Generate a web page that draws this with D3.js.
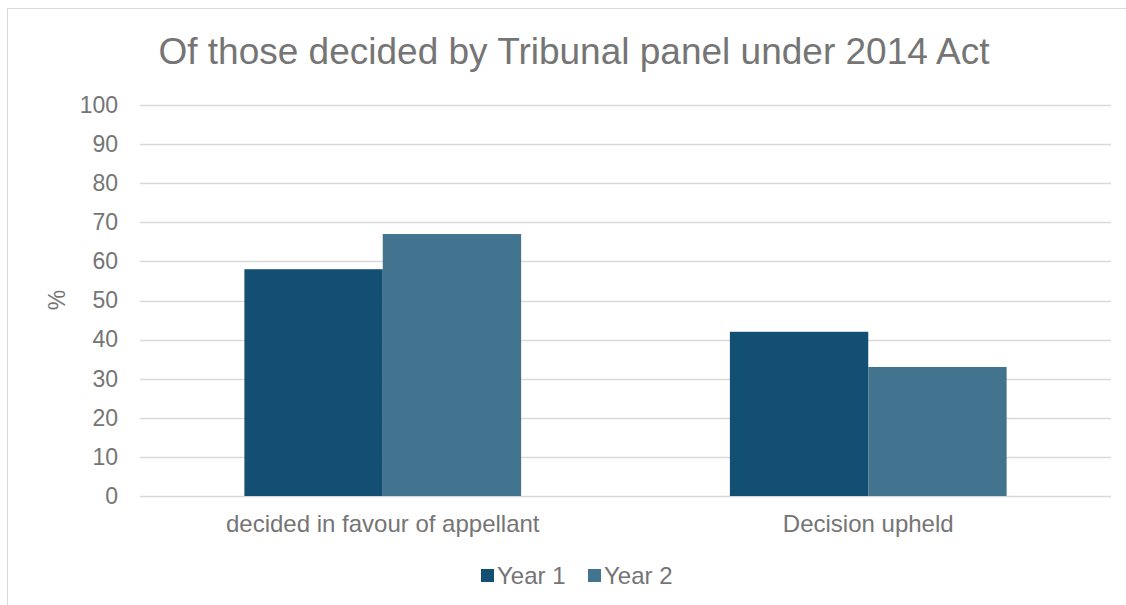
<!DOCTYPE html>
<html>
<head>
<meta charset="utf-8">
<script src="https://cdn.jsdelivr.net/npm/d3@7"></script>
<style>
  body { margin: 0; background: #fff; }
  text { font-family: "Liberation Sans", Arial, sans-serif; fill: #757575; }
</style>
</head>
<body>
<svg id="chart" width="1126" height="605"></svg>
<script>
var categories = ["decided in favour of appellant", "Decision upheld"];
var seriesNames = ["Year 1", "Year 2"];
var year1 = [58, 42];
var year2 = [67, 33];
var yTicks = [0, 10, 20, 30, 40, 50, 60, 70, 80, 90, 100];

var colors = ["#124f73", "#42738f"];
var values = [year1, year2];

var svg = d3.select("#chart");

// outer chart border (runs off right/bottom edge like the source)
svg.append("rect")
  .attr("x", 7.5).attr("y", 8.5)
  .attr("width", 1130).attr("height", 620)
  .attr("fill", "none")
  .attr("stroke", "#d9d9d9");

var plotLeft = 140, plotRight = 1111, plotTop = 105, plotBottom = 496;

var y = d3.scaleLinear().domain([0, 100]).range([plotBottom, plotTop]);
var x0 = d3.scaleBand().domain(categories).range([plotLeft, plotRight])
  .paddingInner(0.43).paddingOuter(0.215);
var x1 = d3.scaleBand().domain(seriesNames).range([0, x0.bandwidth()]);

// gridlines
svg.append("g")
  .selectAll("line")
  .data(yTicks)
  .enter().append("line")
  .attr("x1", plotLeft).attr("x2", plotRight)
  .attr("y1", d => Math.round(y(d)) + 0.5).attr("y2", d => Math.round(y(d)) + 0.5)
  .attr("stroke", "#d9d9d9")
  .attr("stroke-width", 1.3);

// y axis labels
var yAxis = svg.append("g")
  .attr("transform", "translate(" + plotLeft + ",0)")
  .call(d3.axisLeft(y).tickValues(yTicks).tickSize(0).tickPadding(22));
yAxis.select(".domain").remove();
yAxis.selectAll("text")
  .style("font-size", "23px")
  .style("font-family", "'Liberation Sans', Arial, sans-serif")
  .attr("fill", "#757575");

// bars
var groups = svg.append("g")
  .selectAll("g")
  .data(categories)
  .enter().append("g")
  .attr("transform", d => "translate(" + x0(d) + ",0)");

groups.selectAll("rect")
  .data((d, i) => seriesNames.map((s, j) => ({ series: s, value: values[j][i], j: j })))
  .enter().append("rect")
  .attr("x", d => x1(d.series))
  .attr("width", x1.bandwidth())
  .attr("y", d => y(d.value))
  .attr("height", d => y(0) - y(d.value))
  .attr("fill", d => colors[d.j]);

// category labels
var xAxis = svg.append("g")
  .attr("transform", "translate(0," + plotBottom + ")")
  .call(d3.axisBottom(x0).tickSize(0).tickPadding(19));
xAxis.select(".domain").remove();
xAxis.selectAll("text")
  .style("font-size", "24px")
  .style("font-family", "'Liberation Sans', Arial, sans-serif")
  .attr("fill", "#757575");

// y axis title
svg.append("text")
  .attr("transform", "translate(65,300) rotate(-90)")
  .attr("text-anchor", "middle")
  .style("font-size", "23px")
  .text("%");

// title
svg.append("text")
  .attr("x", 574).attr("y", 64)
  .attr("text-anchor", "middle")
  .style("font-size", "37px")
  .text("Of those decided by Tribunal panel under 2014 Act");

// legend
var legend = svg.append("g").attr("transform", "translate(481,576)");
var legendX = [0, 107];
seriesNames.forEach(function (s, i) {
  legend.append("rect")
    .attr("x", legendX[i]).attr("y", -7)
    .attr("width", 13).attr("height", 13)
    .attr("fill", colors[i]);
  legend.append("text")
    .attr("x", legendX[i] + 16).attr("y", 8)
    .style("font-size", "24px")
    .text(s);
});
</script>
</body>
</html>
